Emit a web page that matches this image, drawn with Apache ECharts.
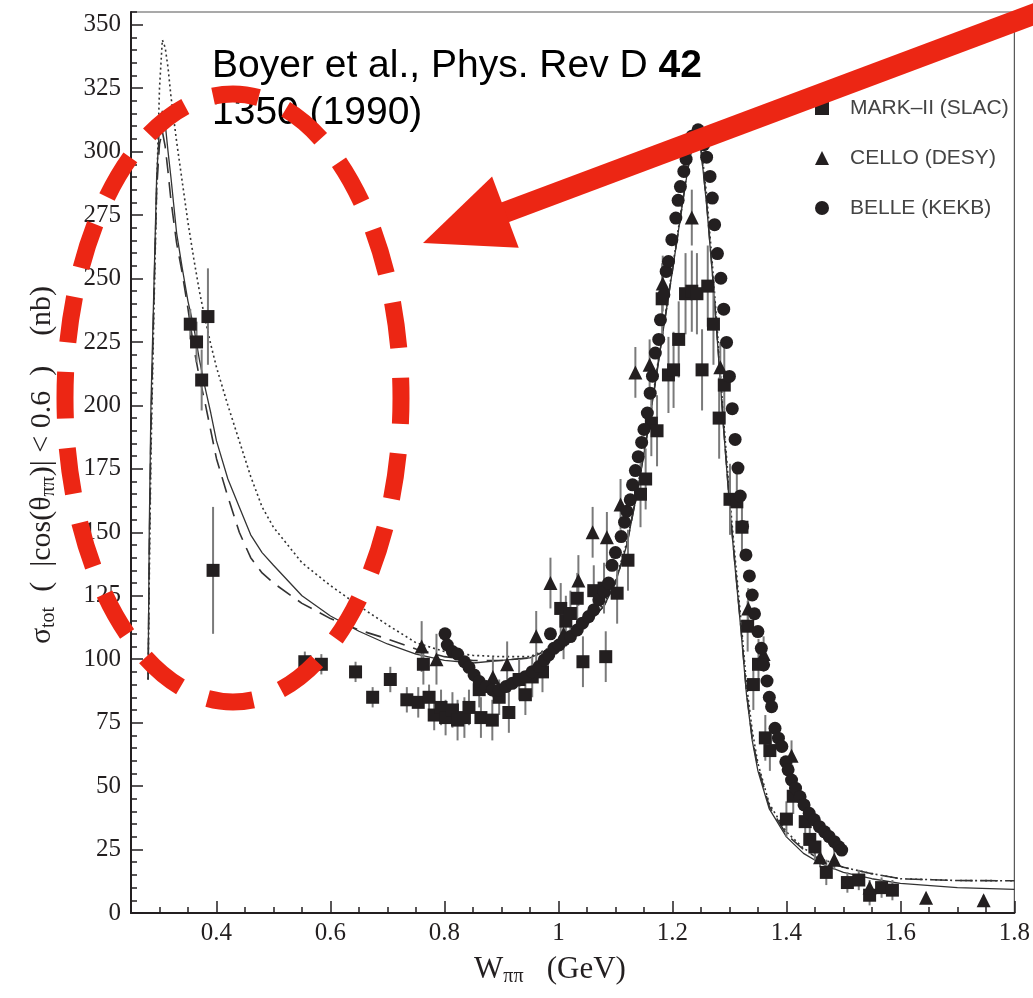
<!DOCTYPE html>
<html>
<head>
<meta charset="utf-8">
<script src="https://cdn.jsdelivr.net/npm/echarts@6/dist/echarts.min.js"></script>
<style>
  html, body { margin: 0; padding: 0; background: #fff; }
  #chart { width: 1033px; height: 998px; }
</style>
</head>
<body>
<div id="chart"></div>
<script>
// ---------- tick labels ----------
const xMajorTicks = [0.4, 0.6, 0.8, 1.0, 1.2, 1.4, 1.6, 1.8];
const yMajorTicks = [0, 25, 50, 75, 100, 125, 150, 175, 200, 225, 250, 275, 300, 325, 350];

// ---------- MARK-II (SLAC) : squares ----------
const markX = [0.354, 0.365, 0.374, 0.385, 0.394,
  0.555, 0.584, 0.644, 0.674, 0.705, 0.734, 0.754, 0.763, 0.773, 0.782, 0.794, 0.802, 0.814, 0.823, 0.835,
  0.843, 0.861, 0.864, 0.884, 0.896, 0.913, 0.931, 0.942, 0.954, 0.972,
  1.004, 1.013, 1.021, 1.033, 1.043, 1.062, 1.080, 1.083, 1.103, 1.122, 1.144, 1.153, 1.163, 1.173,
  1.182, 1.193, 1.202, 1.211, 1.223, 1.234, 1.243, 1.252, 1.262, 1.272, 1.282, 1.291, 1.301, 1.313,
  1.322, 1.332, 1.342, 1.351, 1.363, 1.371, 1.400, 1.412, 1.433, 1.441, 1.450, 1.470, 1.507, 1.527,
  1.546, 1.567, 1.586];
const markY = [232, 225, 210, 235, 135,
  99, 98, 95, 85, 92, 84, 83, 98, 85, 78, 81, 77, 80, 76, 77,
  81, 88, 77, 76, 85, 79, 92, 86, 93, 95,
  120, 115, 118, 124, 99, 127, 128, 101, 126, 139, 165, 171, 193, 190,
  242, 212, 214, 226, 244, 245, 244, 214, 247, 232, 195, 208, 163, 162,
  152, 113, 90, 98, 69, 64, 37, 46, 36, 29, 26, 16, 12, 13,
  7, 10, 9];
const markErr = [6, 8, 12, 19, 25,
  4, 4, 4, 4, 5, 5, 6, 8, 5, 6, 7, 7, 7, 8, 8,
  7, 7, 8, 8, 7, 8, 8, 8, 8, 8,
  10, 10, 9, 10, 10, 10, 10, 10, 12, 12, 13, 12, 13, 14,
  14, 15, 15, 15, 16, 16, 16, 16, 16, 16, 16, 15, 14, 12,
  12, 10, 10, 10, 9, 8, 7, 7, 6, 5, 5, 5, 4, 4,
  4, 4, 4];

// ---------- CELLO (DESY) : triangles ----------
const celloX = [0.760, 0.786, 0.885, 0.910, 0.961, 0.986, 1.009, 1.035, 1.060, 1.085, 1.109, 1.135,
  1.160, 1.183, 1.234, 1.284, 1.333, 1.360, 1.409, 1.459, 1.484, 1.546, 1.645, 1.746];
const celloY = [105, 100, 93, 98, 109, 130, 110, 131, 150, 148, 161, 213,
  216, 248, 274, 215, 120, 102, 62, 22, 21, 10, 6, 5];
const celloErr = [10, 10, 8, 9, 10, 10, 10, 10, 10, 10, 10, 10,
  10, 11, 11, 10, 8, 7, 6, 4, 4, 3, 2, 2];

// ---------- BELLE (KEKB) : circles ----------
const belleX = [0.801, 0.805, 0.814, 0.823, 0.835, 0.843, 0.852, 0.861, 0.873, 0.884, 0.896, 0.908, 0.919,
  0.931, 0.942, 0.954, 0.966, 0.975, 0.983, 0.986, 0.992, 1.001, 1.010, 1.021, 1.033, 1.042, 1.053,
  1.062, 1.071, 1.080, 1.088, 1.094, 1.100, 1.110, 1.116, 1.120, 1.126, 1.130, 1.135, 1.140, 1.146,
  1.150, 1.156, 1.161, 1.165, 1.170, 1.176, 1.179, 1.185, 1.189, 1.193, 1.199, 1.206, 1.210, 1.214,
  1.220, 1.224, 1.234, 1.245, 1.255, 1.260, 1.266, 1.270, 1.274, 1.279, 1.285, 1.290, 1.295, 1.300,
  1.305, 1.310, 1.315, 1.319, 1.323, 1.329, 1.335, 1.340, 1.344, 1.350, 1.356, 1.360, 1.366, 1.370,
  1.374, 1.380, 1.386, 1.392, 1.399, 1.403, 1.409, 1.416, 1.424, 1.431, 1.440, 1.449, 1.458, 1.467,
  1.475, 1.484, 1.492, 1.497];
const belleY = [110, 105.6, 103, 102, 99, 96.8, 93.8, 91.2, 89.2, 87.9, 87.9, 89.2, 90.5,
  91.8, 93.1, 95.1, 97.1, 99.7, 101.7, 110, 104.3, 105.6, 107.6, 108.9, 111.5, 114.2, 116.8,
  119.4, 123.4, 126.5, 130, 137, 142, 148.3, 154, 158.3, 162.8, 168.7, 174.3, 179.8, 185.4,
  190.5, 197, 204.8, 211.5, 220.6, 226, 233.7, 243.6, 252.8, 256.7, 265.3, 273.8, 280.8, 286.2,
  292.2, 297, 306, 308.6, 302.7, 297.8, 290.2, 281.7, 271.2, 259.8, 250.1, 237.9, 224.8, 211.4,
  198.7, 186.6, 175.3, 164.3, 152.3, 141.1, 132.8, 125.3, 117.9, 110.9, 104.3, 97.8, 91.4, 85,
  81.3, 72.8, 68.9, 65.6, 59.6, 56.4, 52.4, 49.2, 45.8, 42.6, 39.3, 36.7, 34, 32,
  30.1, 28.1, 26.1, 24.8];

// ---------- theory curves ----------
const curveX = [0.280, 0.282, 0.285, 0.290, 0.295, 0.300, 0.305, 0.310, 0.315, 0.320,
  0.330, 0.340, 0.350, 0.360, 0.370, 0.380, 0.390, 0.400, 0.420, 0.440,
  0.460, 0.480, 0.500, 0.550, 0.600, 0.650, 0.700, 0.750, 0.800, 0.850,
  0.900, 0.950, 1.000, 1.050, 1.080, 1.100, 1.120, 1.140, 1.160, 1.180,
  1.200, 1.220, 1.230, 1.240, 1.250, 1.260, 1.270, 1.280, 1.290, 1.300,
  1.310, 1.320, 1.330, 1.340, 1.350, 1.370, 1.400, 1.430, 1.460, 1.500,
  1.550, 1.600, 1.700, 1.800];
const solidY = [92, 150, 200, 245, 290, 310, 316, 311, 300, 290,
  268, 254, 241, 231, 218, 207, 197, 186, 171, 160,
  149, 142, 137, 125, 117, 111, 106, 102, 99.5, 98.5,
  99.5, 100.5, 105.5, 113.5, 121, 130, 145, 168, 194, 224,
  253, 283, 297, 305, 301, 279, 252, 222, 190, 161,
  136, 112, 86, 68, 56, 41, 30, 23.5, 19.5, 16,
  13.5, 11.7, 10, 9.3];
const dashedY = [92, 140, 190, 240, 285, 303, 308, 302, 292, 281,
  264, 252, 238, 223, 211, 201, 190, 179, 164, 150,
  140, 134, 130, 122, 116, 111.5, 108, 104, 101, 99.5,
  99.5, 100.5, 105.5, 113.5, 121, 130, 145, 168, 194, 224,
  253, 283, 297, 305, 301, 280, 253, 223, 191, 162,
  137, 113, 87, 69, 57.5, 42, 31, 25, 21, 18,
  15.5, 13.5, 12.8, 12.7];
const dottedY = [92, 130, 180, 235, 285, 325, 344, 341, 333, 322,
  304, 288, 272, 258, 245, 234, 224, 215, 200, 186,
  172, 160, 152, 138, 129, 121, 113.5, 106.5, 103, 101.5,
  101, 101, 106, 114.5, 122, 131, 146, 169, 195, 225,
  254, 284, 298, 306, 303, 283, 256, 226, 194, 165,
  140, 116, 90, 72, 59, 43, 32, 25.5, 21.5, 18,
  15.5, 13.5, 12.8, 12.7];

// ---------- build ----------
const zip = (xs, ys) => xs.map((x, i) => [x, ys[i]]);
const errData = (xs, ys, es) => xs.map((x, i) => [x, ys[i] - es[i], ys[i] + es[i]]);

const INK = '#231f20';
const serif = 'Liberation Serif';

function errRender(params, api) {
  const x = api.value(0);
  const p1 = api.coord([x, api.value(1)]);
  const p2 = api.coord([x, api.value(2)]);
  return {
    type: 'line',
    shape: { x1: p1[0], y1: p1[1], x2: p2[0], y2: p2[1] },
    style: { stroke: '#7a7a7a', lineWidth: 2 }
  };
}

// red annotation geometry (arrow)
const tip = [423, 243], tail = [1045, 10];
const dx = tail[0] - tip[0], dy = tail[1] - tip[1];
const L = Math.hypot(dx, dy);
const ux = dx / L, uy = dy / L, nx = -uy, ny = ux;
const headLen = 88, headHalf = 38;
const base = [tip[0] + ux * headLen, tip[1] + uy * headLen];
const RED = '#ec2614';

const chart = echarts.init(document.getElementById('chart'), null, { renderer: 'canvas' });

const option = {
  animation: false,
  backgroundColor: '#ffffff',
  grid: { left: 131, right: 18, top: 12, bottom: 85, show: true, borderColor: '#555', borderWidth: 1.2 },
  legend: {
    data: ['MARK–II (SLAC)', 'CELLO (DESY)', 'BELLE (KEKB)'],
    orient: 'vertical', left: 810, top: 92,
    itemWidth: 14, itemHeight: 14, itemGap: 28,
    selectedMode: false,
    formatter: '{t|{name}}',
    textStyle: {
      fontFamily: 'Liberation Sans', fontSize: 21, color: '#444', lineHeight: 22,
      rich: { t: { fontFamily: 'Liberation Sans', fontSize: 21, color: '#444', lineHeight: 22, padding: [0, 0, 0, 16] } }
    }
  },
  xAxis: [
    {
      type: 'value', min: 0.25, max: 1.8, interval: 0.05, position: 'bottom',
      axisLine: { lineStyle: { color: INK, width: 2 } },
      axisTick: { inside: true, length: 6, lineStyle: { color: INK, width: 1.5 } },
      axisLabel: { show: false }, splitLine: { show: false }
    },
    {
      type: 'value', min: 0.25, max: 1.8, position: 'bottom',
      axisLine: { show: false },
      axisTick: { show: true, inside: true, length: 12, customValues: xMajorTicks, lineStyle: { color: INK, width: 1.5 } },
      axisLabel: { customValues: xMajorTicks, fontFamily: serif, fontSize: 25, color: INK, margin: 8 },
      splitLine: { show: false }
    }
  ],
  yAxis: [
    {
      type: 'value', min: 0, max: 355, interval: 5,
      axisLine: { show: true, lineStyle: { color: INK, width: 2 } },
      axisTick: { show: true, inside: true, length: 6, lineStyle: { color: INK, width: 1.5 } },
      axisLabel: { show: false }, splitLine: { show: false }
    },
    {
      type: 'value', min: 0, max: 355, position: 'left',
      axisLine: { show: false },
      axisTick: { show: true, inside: true, length: 12, customValues: yMajorTicks, lineStyle: { color: INK, width: 1.5 } },
      axisLabel: { customValues: yMajorTicks, fontFamily: serif, fontSize: 25, color: INK, margin: 10 },
      splitLine: { show: false }
    }
  ],
  series: [
    { type: 'line', name: 'dotted', data: zip(curveX, dottedY), showSymbol: false, symbol: 'none',
      lineStyle: { color: '#333', width: 1.6, type: [2, 3] }, z: 2 },
    { type: 'line', name: 'dashed', data: zip(curveX, dashedY), showSymbol: false, symbol: 'none',
      lineStyle: { color: '#333', width: 1.6, type: [16, 9] }, z: 2 },
    { type: 'line', name: 'solid', data: zip(curveX, solidY), showSymbol: false, symbol: 'none',
      lineStyle: { color: '#333', width: 1.3 }, z: 2 },
    { type: 'custom', name: 'markErr', data: errData(markX, markY, markErr), renderItem: errRender,
      encode: { x: 0, y: [1, 2] }, z: 3 },
    { type: 'custom', name: 'celloErr', data: errData(celloX, celloY, celloErr), renderItem: errRender,
      encode: { x: 0, y: [1, 2] }, z: 3 },
    { type: 'scatter', name: 'MARK–II (SLAC)', data: zip(markX, markY), symbol: 'rect', symbolSize: 13,
      itemStyle: { color: INK, opacity: 1 }, z: 4 },
    { type: 'scatter', name: 'CELLO (DESY)', data: zip(celloX, celloY), symbol: 'triangle', symbolSize: 14,
      itemStyle: { color: INK, opacity: 1 }, z: 4 },
    { type: 'scatter', name: 'BELLE (KEKB)', data: zip(belleX, belleY), symbol: 'circle', symbolSize: 13,
      itemStyle: { color: INK, opacity: 1 }, z: 4 }
  ],
  graphic: [
    {
      type: 'text', x: 42, y: 465, rotation: Math.PI / 2, z: 10,
      style: {
        text: '{m|σ}{s|tot}{m|  (  |cos(θ}{s|ππ}{m|)| < 0.6  )    (nb)}',
        align: 'center', verticalAlign: 'middle', fill: INK,
        rich: {
          m: { fontFamily: serif, fontSize: 30, fill: INK, lineHeight: 36 },
          s: { fontFamily: serif, fontSize: 20, fill: INK, lineHeight: 36, padding: [14, 0, 0, 0] }
        }
      }
    },
    {
      type: 'text', x: 550, y: 970, z: 10,
      style: {
        text: '{m|W}{s|ππ}{m|   (GeV)}',
        align: 'center', verticalAlign: 'middle', fill: INK,
        rich: {
          m: { fontFamily: serif, fontSize: 31, fill: INK, lineHeight: 36 },
          s: { fontFamily: serif, fontSize: 20, fill: INK, lineHeight: 36, padding: [14, 0, 0, 0] }
        }
      }
    },
    {
      type: 'text', x: 212, y: 43, z: 20,
      style: {
        text: '{n|Boyer et al., Phys. Rev D }{b|42}\n{n|1350 (1990)}',
        align: 'left', verticalAlign: 'top', fill: '#000',
        rich: {
          n: { fontFamily: 'Liberation Sans', fontSize: 39, lineHeight: 47, fill: '#000' },
          b: { fontFamily: 'Liberation Sans', fontSize: 39, lineHeight: 47, fontWeight: 'bold', fill: '#000' }
        }
      }
    },
    {
      type: 'ellipse', z: 30,
      shape: { cx: 233, cy: 398, rx: 168, ry: 304 },
      style: { fill: 'none', stroke: RED, lineWidth: 17, lineDash: [46, 29.65], lineDashOffset: 20, lineCap: 'butt' }
    },
    {
      type: 'line', z: 30,
      shape: { x1: base[0] - ux * 2, y1: base[1] - uy * 2, x2: tail[0], y2: tail[1] },
      style: { stroke: RED, lineWidth: 21, lineCap: 'butt' }
    },
    {
      type: 'polygon', z: 30,
      shape: { points: [tip, [base[0] + nx * headHalf, base[1] + ny * headHalf], [base[0] - nx * headHalf, base[1] - ny * headHalf]] },
      style: { fill: RED, stroke: 'none' }
    }
  ]
};

chart.setOption(option);
</script>
</body>
</html>
